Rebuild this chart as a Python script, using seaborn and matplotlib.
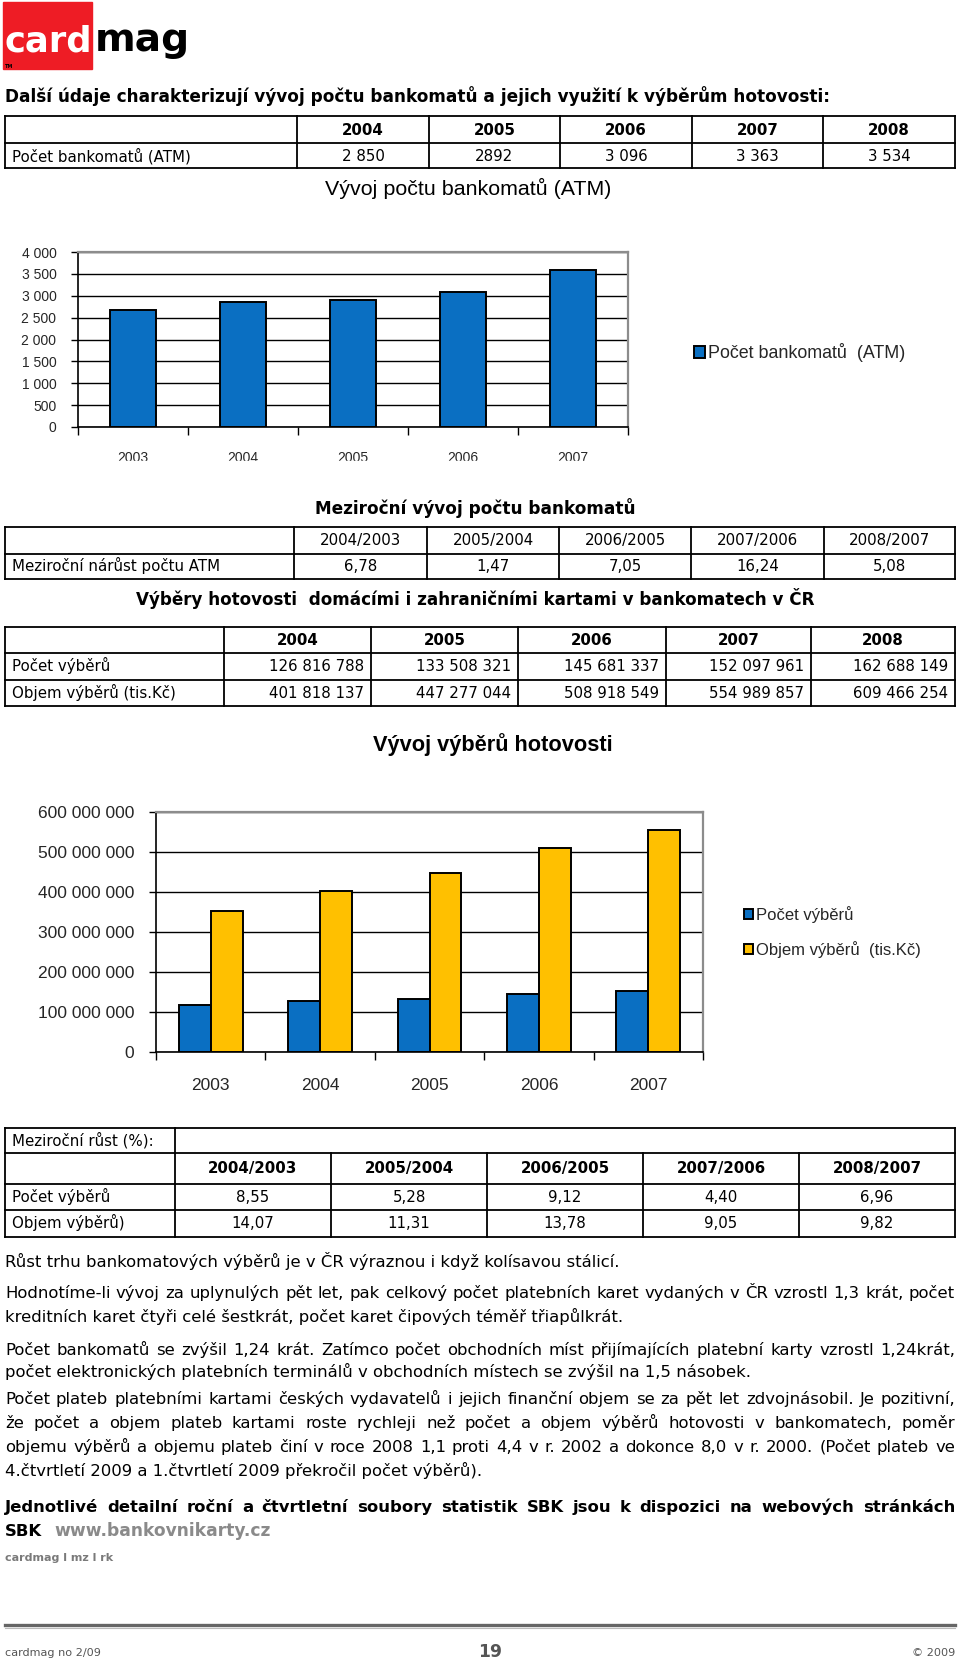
import matplotlib
matplotlib.use('Agg')
import matplotlib.pyplot as plt
from matplotlib.patches import Rectangle
from matplotlib.ticker import MultipleLocator, FuncFormatter
import seaborn as sns
import pandas as pd
import numpy as np

# ---------------- data ----------------
table_years = ['2004', '2005', '2006', '2007', '2008']
atm_count_labels = ['2 850', '2892', '3 096', '3 363', '3 534']
growth_periods = ['2004/2003', '2005/2004', '2006/2005', '2007/2006', '2008/2007']
atm_growth = ['6,78', '1,47', '7,05', '16,24', '5,08']
withdraw_count_labels = ['126 816 788', '133 508 321', '145 681 337', '152 097 961', '162 688 149']
withdraw_volume_labels = ['401 818 137', '447 277 044', '508 918 549', '554 989 857', '609 466 254']
count_growth = ['8,55', '5,28', '9,12', '4,40', '6,96']
volume_growth = ['14,07', '11,31', '13,78', '9,05', '9,82']

chart_years = ['2003', '2004', '2005', '2006', '2007']
atm_chart_values = [2669, 2850, 2892, 3096, 3580]
count_chart_values = [116.8e6, 126.8e6, 133.5e6, 145.7e6, 152.1e6]
volume_chart_values = [352.3e6, 401.8e6, 447.3e6, 508.9e6, 555.0e6]
atm_series = 'Počet bankomatů  (ATM)'
count_series = 'Počet výběrů'
volume_series = 'Objem výběrů  (tis.Kč)'

para_lines = [
    ('Růst trhu bankomatových výběrů je v ČR výraznou i když kolísavou stálicí.', 1261, False),
    ('Hodnotíme-li vývoj za uplynulých pět let, pak celkový počet platebních karet vydaných v ČR vzrostl 1,3 krát, počet', 1292, True),
    ('kreditních karet čtyři celé šestkrát, počet karet čipových téměř třiapůlkrát.', 1316, False),
    ('Počet bankomatů se zvýšil 1,24 krát. Zatímco počet obchodních míst přijímajících platební karty vzrostl 1,24krát,', 1349, True),
    ('počet elektronických platebních terminálů v obchodních místech se zvýšil na 1,5 násobek.', 1371, False),
    ('Počet plateb platebními kartami českých vydavatelů i jejich finanční objem se za pět let zdvojnásobil. Je pozitivní,', 1398, True),
    ('že počet a objem plateb kartami roste rychleji než počet a objem výběrů hotovosti v bankomatech, poměr', 1422, True),
    ('objemu výběrů a objemu plateb činí v roce 2008 1,1 proti 4,4 v r. 2002 a dokonce 8,0 v r. 2000. (Počet plateb ve', 1446, True),
    ('4.čtvrtletí 2009 a 1.čtvrtletí 2009 překročil počet výběrů).', 1470, False),
]

# ---------------- setup ----------------
W, H = 960, 1666
sns.set_theme(style='white')
plt.rcParams['font.family'] = ['Liberation Sans', 'DejaVu Sans']
BODY = 'DejaVu Sans'
CHART = 'Liberation Sans'
BLUE = '#0A6FC2'
YELLOW = '#FFC000'

fig = plt.figure(figsize=(W / 100, H / 100), dpi=100)
fig.patch.set_facecolor('white')
bg = fig.add_axes([0, 0, 1, 1])
bg.set_xlim(0, W)
bg.set_ylim(H, 0)
bg.axis('off')
renderer = fig.canvas.get_renderer()


def text_width(s, size, weight='normal', family=BODY):
    t = bg.text(0, 0, s, fontsize=size, fontweight=weight, family=family)
    w = t.get_window_extent(renderer).width
    t.remove()
    return w


def fit_size(s, width, weight='normal', family=BODY):
    return 10 * width / text_width(s, 10, weight, family)


def put(x, y, s, size, weight='normal', ha='left', color='black', family=BODY, va='center'):
    # 'center' means: capital letters centred on y (placed on a computed baseline)
    if va == 'center':
        y = y + 0.36 * size * 100 / 72
        va = 'baseline'
    return bg.text(x, y, s, fontsize=size, fontweight=weight, ha=ha, va=va,
                   color=color, family=family)


def justify(y, s, x0, x1, size, weight='normal', color='black'):
    words = s.split(' ')
    widths = [text_width(w, size, weight) for w in words]
    gap = (x1 - x0 - sum(widths)) / (len(words) - 1)
    x = x0
    for w, wd in zip(words, widths):
        put(x, y, w, size, weight, color=color)
        x += wd + gap


def hline(y, x0, x1, lw=1.3, color='black'):
    bg.plot([x0, x1], [y, y], color=color, lw=lw, solid_capstyle='projecting')


def vline(x, y0, y1, lw=1.3, color='black'):
    bg.plot([x, x], [y0, y1], color=color, lw=lw, solid_capstyle='projecting')


def ax_rect(x0, y0, x1, y1):
    return [x0 / W, 1 - y1 / H, (x1 - x0) / W, (y1 - y0) / H]


# ---------------- logo ----------------
bg.add_patch(Rectangle((3, 2), 89, 67, color='#EE1C25', zorder=1))
put(4, 51, 'card', fit_size('card', 88, 'bold'), 'bold', color='white', va='baseline')
put(95, 51, 'mag', fit_size('mag', 95, 'bold'), 'bold', color='black', va='baseline')
put(5, 66, 'TM', 3.5, 'bold', color='black')

# ---------------- heading + table 1 ----------------
head = 'Další údaje charakterizují vývoj počtu bankomatů a jejich využití k výběrům hotovosti:'
put(5, 96, head, fit_size(head, 820, 'bold'), 'bold')

TS = fit_size('Meziroční nárůst počtu ATM', 207)

L, R = 5, 955
cols1 = [5, 297, 429, 560, 692, 823, 955]
for y in (116, 143, 168):
    hline(y, L, R)
for x in cols1:
    vline(x, 116, 168)
for i, yr in enumerate(table_years):
    cx = (cols1[i + 1] + cols1[i + 2]) / 2
    put(cx, 130, yr, TS, 'bold', ha='center')
    put(cx, 156, atm_count_labels[i], TS, ha='center')
put(12, 156, 'Počet bankomatů (ATM)', TS)

# ---------------- chart 1 ----------------
t1 = 'Vývoj počtu bankomatů (ATM)'
put(468, 187, t1, fit_size(t1, 287, family=CHART), family=CHART, ha='center')

ax1 = fig.add_axes(ax_rect(78, 252, 628, 427))
df1 = pd.DataFrame({'rok': chart_years, 'hodnota': atm_chart_values,
                    'rada': [atm_series] * len(chart_years)})
sns.barplot(data=df1, x='rok', y='hodnota', hue='rada', palette=[BLUE],
            saturation=1, width=0.42, edgecolor='black', linewidth=1.4, ax=ax1)

fmt = FuncFormatter(lambda v, p: f'{int(round(v)):,}'.replace(',', ' '))


def style_chart(ax, ymax, ystep, ysize, xsize, xpad):
    ax.set_xlim(-0.5, 4.5)
    ax.set_ylim(0, ymax)
    ax.yaxis.set_major_locator(MultipleLocator(ystep))
    ax.yaxis.set_major_formatter(fmt)
    ax.yaxis.grid(True, color='black', linewidth=1.0)
    ax.set_axisbelow(True)
    ax.set_xlabel('')
    ax.set_ylabel('')
    for s in ('left', 'bottom'):
        ax.spines[s].set_color('black')
        ax.spines[s].set_linewidth(1.2)
    for s in ('top', 'right'):
        ax.spines[s].set_color('#8c8c8c')
        ax.spines[s].set_linewidth(1.6)
    ax.tick_params(axis='y', left=True, length=5, width=1, color='black',
                   direction='out', pad=10.5, labelsize=ysize)
    ax.set_xticks(np.arange(-0.5, 5.0, 1.0), minor=True)
    ax.tick_params(axis='x', which='major', bottom=True, length=0, pad=xpad, labelsize=xsize)
    ax.tick_params(axis='x', which='minor', bottom=True, length=6, width=1, color='black',
                   direction='out')
    for lab in ax.get_xticklabels() + ax.get_yticklabels():
        lab.set_family(CHART)


style_chart(ax1, 4000, 500, 10, 10, 17)
h1, l1 = ax1.get_legend_handles_labels()
ls1 = fit_size(atm_series, 198, family=CHART)
ax1.legend(h1, l1, loc='center left', bbox_to_anchor=(694 / W, 1 - 353 / H),
           bbox_transform=fig.transFigure, frameon=False, fontsize=ls1,
           handlelength=0.62, handleheight=0.62, handletextpad=0.18,
           borderpad=0, borderaxespad=0)

# clip the chart-1 category labels like the reference
fig.add_artist(Rectangle((0, 1 - 492 / H), 1, (492 - 461) / H, transform=fig.transFigure,
                         color='white', zorder=10))

# ---------------- table 2 ----------------
h2 = 'Meziroční vývoj počtu bankomatů'
put(475, 508, h2, fit_size(h2, 319, 'bold'), 'bold', ha='center')
cols2 = [5, 294, 427, 559, 691, 824, 955]
for y in (527, 554, 579):
    hline(y, L, R)
for x in cols2:
    vline(x, 527, 579)
for i, per in enumerate(growth_periods):
    cx = (cols2[i + 1] + cols2[i + 2]) / 2
    put(cx, 540, per, TS, ha='center')
    put(cx, 566, atm_growth[i], TS, ha='center')
put(12, 566, 'Meziroční nárůst počtu ATM', TS)

# ---------------- table 3 ----------------
h3 = 'Výběry hotovosti  domácími i zahraničními kartami v bankomatech v ČR'
put(475, 599, h3, fit_size(h3, 681, 'bold'), 'bold', ha='center')
cols3 = [5, 224, 371, 518, 666, 811, 955]
for y in (627, 653, 680, 706):
    hline(y, L, R)
for x in cols3:
    vline(x, 627, 706)
for i, yr in enumerate(table_years):
    cx = (cols3[i + 1] + cols3[i + 2]) / 2
    put(cx, 640, yr, TS, 'bold', ha='center')
    put(cols3[i + 2] - 7, 666, withdraw_count_labels[i], TS, ha='right')
    put(cols3[i + 2] - 7, 693, withdraw_volume_labels[i], TS, ha='right')
put(12, 666, 'Počet výběrů', TS)
put(12, 693, 'Objem výběrů (tis.Kč)', TS)

# ---------------- chart 2 ----------------
t2 = 'Vývoj výběrů hotovosti'
put(493, 743, t2, fit_size(t2, 239, 'bold', family=CHART), 'bold', family=CHART, ha='center')

ax2 = fig.add_axes(ax_rect(156, 812, 703, 1052))
df2 = pd.DataFrame({
    'rok': chart_years + chart_years,
    'hodnota': count_chart_values + volume_chart_values,
    'rada': [count_series] * 5 + [volume_series] * 5,
})
sns.barplot(data=df2, x='rok', y='hodnota', hue='rada', palette=[BLUE, YELLOW],
            saturation=1, width=0.585, edgecolor='black', linewidth=1.4, ax=ax2)
style_chart(ax2, 600e6, 100e6, 12.5, 12.5, 18.5)
h2h, l2 = ax2.get_legend_handles_labels()
ls2 = fit_size(volume_series, 165, family=CHART)
ax2.legend(h2h, l2, loc='center left', bbox_to_anchor=(744 / W, 1 - 932 / H),
           bbox_transform=fig.transFigure, frameon=False, fontsize=ls2,
           handlelength=0.55, handleheight=0.55, handletextpad=0.2,
           labelspacing=1.1, borderpad=0, borderaxespad=0)
fig.add_artist(Rectangle((0, 1 - 1118 / H), 1, (1118 - 1091) / H, transform=fig.transFigure,
                         color='white', zorder=10))

# ---------------- table 4 ----------------
cols4 = [5, 175, 331, 487, 643, 799, 955]
for y in (1128, 1153, 1184, 1210, 1237):
    hline(y, L, R)
for x in (5, 175, 955):
    vline(x, 1128, 1237)
for x in cols4[2:-1]:
    vline(x, 1153, 1237)
put(12, 1140, 'Meziroční růst (%):', TS)
for i, per in enumerate(growth_periods):
    cx = (cols4[i + 1] + cols4[i + 2]) / 2
    put(cx, 1168, per, TS, 'bold', ha='center')
    put(cx, 1197, count_growth[i], TS, ha='center')
    put(cx, 1223, volume_growth[i], TS, ha='center')
put(12, 1197, 'Počet výběrů', TS)
put(12, 1223, 'Objem výběrů)', TS)

# ---------------- paragraphs ----------------
PS = fit_size(para_lines[0][0], 614)
for s, y, just in para_lines:
    if just:
        justify(y, s, 5, 955, PS)
    else:
        put(5, y, s, PS)

l5 = 'Jednotlivé detailní roční a čtvrtletní soubory statistik SBK jsou k dispozici na webových stránkách'
justify(1506, l5, 5, 955, PS, 'bold')
put(5, 1530, 'SBK', PS, 'bold')
put(54, 1530, 'www.bankovnikarty.cz', fit_size('www.bankovnikarty.cz', 217, 'bold'), 'bold',
    color='#8a8a8a')
put(5, 1557, 'cardmag l mz l rk', fit_size('cardmag l mz l rk', 108, 'bold'), 'bold',
    color='#7a7a7a')

# ---------------- footer ----------------
hline(1625, 5, 955, lw=2.4, color='#666666')
hline(1627.5, 5, 955, lw=0.8, color='#bbbbbb')
fs_foot = fit_size('cardmag no 2/09', 96)
put(5, 1652, 'cardmag no 2/09', fs_foot, color='#555555')
put(490, 1651, '19', fit_size('19', 24, 'bold'), 'bold', ha='center', color='#555555')
put(955, 1652, '© 2009', fs_foot, ha='right', color='#555555')

fig.savefig('out.png', dpi=100, facecolor='white')
